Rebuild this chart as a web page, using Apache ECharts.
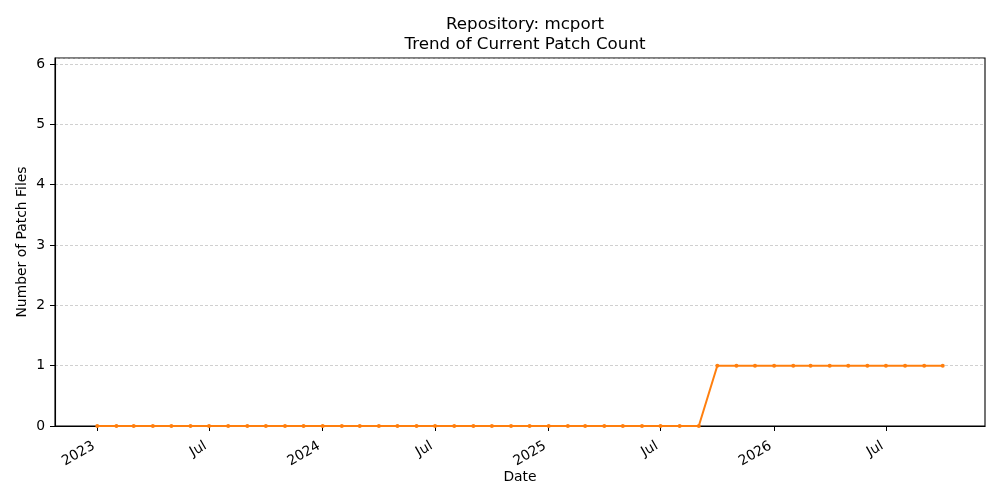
<!DOCTYPE html>
<html>
<head>
<meta charset="utf-8">
<script src="https://cdn.jsdelivr.net/npm/echarts@6/dist/echarts.min.js"></script>
<style>html,body{margin:0;padding:0;background:#fff;}#c{width:1000px;height:500px;}</style>
</head>
<body>
<div id="c"></div>
<script>
const dates = [
  '2023-01-01','2023-02-01','2023-03-01','2023-04-01','2023-05-01','2023-06-01',
  '2023-07-01','2023-08-01','2023-09-01','2023-10-01','2023-11-01','2023-12-01',
  '2024-01-01','2024-02-01','2024-03-01','2024-04-01','2024-05-01','2024-06-01',
  '2024-07-01','2024-08-01','2024-09-01','2024-10-01','2024-11-01','2024-12-01',
  '2025-01-01','2025-02-01','2025-03-01','2025-04-01','2025-05-01','2025-06-01',
  '2025-07-01','2025-08-01','2025-09-01','2025-10-01','2025-11-01','2025-12-01',
  '2026-01-01','2026-02-01','2026-03-01','2026-04-01','2026-05-01','2026-06-01',
  '2026-07-01','2026-08-01','2026-09-01','2026-10-01'
];
const patchCounts = [
  0,0,0,0,0,0,0,0,0,0,0,0,
  0,0,0,0,0,0,0,0,0,0,0,0,
  0,0,0,0,0,0,0,0,0,1,1,1,
  1,1,1,1,1,1,1,1,1,1
];
const xTickDates = ['2023-01-01','2023-07-01','2024-01-01','2024-07-01','2025-01-01','2025-07-01','2026-01-01','2026-07-01'];
const xTickLabels = ['2023','Jul','2024','Jul','2025','Jul','2026','Jul'];
const yTicks = [0,1,2,3,4,5,6];

function ts(s){ const p = s.split('-').map(Number); return Date.UTC(p[0], p[1]-1, p[2]); }
const tickVals = xTickDates.map(ts);
const t0 = ts(dates[0]), t1 = ts(dates[dates.length-1]);
const pad = (t1 - t0) * 0.05;

const chart = echarts.init(document.getElementById('c'), null, {renderer:'canvas'});
const font = 'DejaVu Sans';
chart.setOption({
  animation: false,
  backgroundColor: '#fff',
  title: {
    text: 'Repository: mcport\nTrend of Current Patch Count',
    left: 520, textAlign: 'center', top: 10,
    textStyle: {fontFamily: font, fontSize: 16.7, fontWeight: 'normal', color: '#000', lineHeight: 20}
  },
  grid: {left: 55, right: 15, top: 58, bottom: 74, show: true, borderColor: '#000', borderWidth: 1.1, backgroundColor: 'transparent'},
  xAxis: {
    type: 'value',
    min: t0 - pad, max: t1 + pad,
    name: 'Date', nameLocation: 'middle', nameGap: 44, nameMoveOverlap: false,
    nameTextStyle: {fontFamily: font, fontSize: 13.9, color: '#000'},
    axisLine: {show: true, lineStyle: {color: '#000', width: 1.1}},
    axisTick: {show: true, inside: false, length: 5, lineStyle: {color: '#000'}, customValues: tickVals},
    axisLabel: {
      customValues: tickVals, rotate: 30, margin: 25, verticalAlign: 'bottom',
      fontFamily: font, fontSize: 13.9, color: '#000',
      formatter: function(v){ const i = tickVals.indexOf(v); return i >= 0 ? xTickLabels[i] : ''; }
    },
    splitLine: {show: false}
  },
  yAxis: {
    type: 'value', min: 0, max: 6.1, interval: 1,
    name: 'Number of Patch Files', nameLocation: 'middle', nameGap: 26, nameMoveOverlap: false,
    nameTextStyle: {fontFamily: font, fontSize: 13.9, color: '#000'},
    axisLine: {show: true, lineStyle: {color: '#000', width: 1.1}},
    axisTick: {show: true, inside: false, length: 5, lineStyle: {color: '#000'}},
    axisLabel: {
      margin: 10, fontFamily: font, fontSize: 13.9, color: '#000', showMaxLabel: false,
      formatter: function(v){ return yTicks.indexOf(v) >= 0 ? String(v) : ''; }
    },
    splitLine: {show: true, lineStyle: {color: '#b0b0b0', width: 0.6, type: [3, 2]}}
  },
  series: [{
    type: 'line',
    data: dates.map((d, i) => [ts(d), patchCounts[i]]),
    color: '#ff7f0e',
    lineStyle: {color: '#ff7f0e', width: 2},
    itemStyle: {color: '#ff7f0e'},
    symbol: 'circle', symbolSize: 4, showAllSymbol: true,
    clip: false
  }]
});
</script>
</body>
</html>
